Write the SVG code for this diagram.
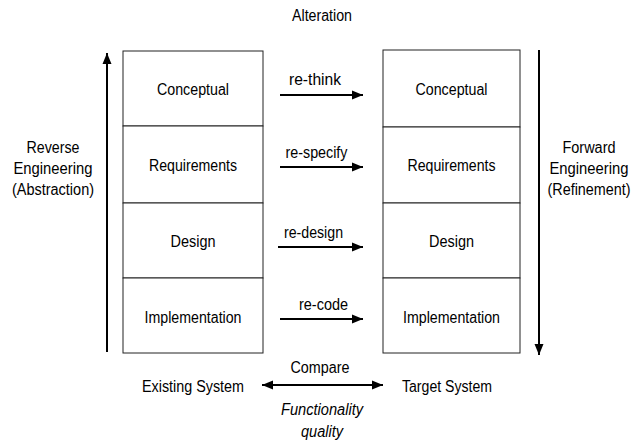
<svg xmlns="http://www.w3.org/2000/svg" width="643" height="443" viewBox="0 0 643 443">
<style>
text{font-family:"Liberation Sans",Arial,Helvetica,sans-serif;font-size:16px;fill:#000;text-anchor:middle}
.it{font-style:italic}
.cell{fill:#fff;stroke:#222;stroke-width:1}
.arr{stroke:#000;stroke-width:2;fill:none}
</style>
<defs>
<marker id="ah" viewBox="0 0 11 10" refX="11" refY="5" markerWidth="11" markerHeight="10" markerUnits="userSpaceOnUse" orient="auto-start-reverse">
<path d="M0,0.5 L11,5 L0,9.5 z" fill="#000"/>
</marker>
</defs>
<rect width="643" height="443" fill="#fff"/>
<g id="existing-system">
<g id="ex-conceptual"><rect class="cell" x="123" y="51" width="140" height="75"/><text x="193" y="95" textLength="72" lengthAdjust="spacingAndGlyphs">Conceptual</text></g>
<g id="ex-requirements"><rect class="cell" x="123" y="126" width="140" height="77"/><text x="193" y="171" textLength="88" lengthAdjust="spacingAndGlyphs">Requirements</text></g>
<g id="ex-design"><rect class="cell" x="123" y="203" width="140" height="75"/><text x="193" y="247" textLength="45" lengthAdjust="spacingAndGlyphs">Design</text></g>
<g id="ex-implementation"><rect class="cell" x="123" y="278" width="140" height="75"/><text x="193" y="323" textLength="97" lengthAdjust="spacingAndGlyphs">Implementation</text></g>
</g>
<g id="target-system">
<g id="tg-conceptual"><rect class="cell" x="383" y="50" width="137" height="77"/><text x="451.5" y="95" textLength="72" lengthAdjust="spacingAndGlyphs">Conceptual</text></g>
<g id="tg-requirements"><rect class="cell" x="383" y="127" width="137" height="76"/><text x="451.5" y="171" textLength="88" lengthAdjust="spacingAndGlyphs">Requirements</text></g>
<g id="tg-design"><rect class="cell" x="383" y="203" width="137" height="75"/><text x="451.5" y="247" textLength="45" lengthAdjust="spacingAndGlyphs">Design</text></g>
<g id="tg-implementation"><rect class="cell" x="383" y="278" width="137" height="75"/><text x="451.5" y="323" textLength="97" lengthAdjust="spacingAndGlyphs">Implementation</text></g>
</g>
<g id="labels">
<text x="322" y="21" textLength="60" lengthAdjust="spacingAndGlyphs">Alteration</text>
<text x="53" y="153" textLength="53" lengthAdjust="spacingAndGlyphs">Reverse</text>
<text x="53" y="174" textLength="79" lengthAdjust="spacingAndGlyphs">Engineering</text>
<text x="53" y="195" textLength="82" lengthAdjust="spacingAndGlyphs">(Abstraction)</text>
<text x="589" y="153" textLength="53" lengthAdjust="spacingAndGlyphs">Forward</text>
<text x="589" y="174" textLength="79" lengthAdjust="spacingAndGlyphs">Engineering</text>
<text x="589" y="195" textLength="83" lengthAdjust="spacingAndGlyphs">(Refinement)</text>
<text x="193" y="392" textLength="102" lengthAdjust="spacingAndGlyphs">Existing System</text>
<text x="447" y="392" textLength="90" lengthAdjust="spacingAndGlyphs">Target System</text>
<text x="320" y="373" textLength="59" lengthAdjust="spacingAndGlyphs">Compare</text>
<text class="it" x="322" y="415" textLength="82" lengthAdjust="spacingAndGlyphs">Functionality</text>
<text class="it" x="322" y="437" textLength="42" lengthAdjust="spacingAndGlyphs">quality</text>
</g>
<g id="connectors">
<line class="arr" x1="107" y1="352" x2="107" y2="53" marker-end="url(#ah)"/>
<line class="arr" x1="539" y1="50" x2="539" y2="355" marker-end="url(#ah)"/>
<line class="arr" x1="280" y1="95" x2="363" y2="95" marker-end="url(#ah)"/>
<text x="315" y="85" textLength="52" lengthAdjust="spacingAndGlyphs">re-think</text>
<line class="arr" x1="280" y1="167" x2="363" y2="167" marker-end="url(#ah)"/>
<text x="316.5" y="158" textLength="62" lengthAdjust="spacingAndGlyphs">re-specify</text>
<line class="arr" x1="278" y1="247" x2="363" y2="247" marker-end="url(#ah)"/>
<text x="313.5" y="238" textLength="59" lengthAdjust="spacingAndGlyphs">re-design</text>
<line class="arr" x1="280" y1="319" x2="363" y2="319" marker-end="url(#ah)"/>
<text x="323.5" y="310" textLength="49" lengthAdjust="spacingAndGlyphs">re-code</text>
<line class="arr" x1="262" y1="385" x2="383" y2="385" marker-start="url(#ah)" marker-end="url(#ah)"/>
</g>
</svg>
